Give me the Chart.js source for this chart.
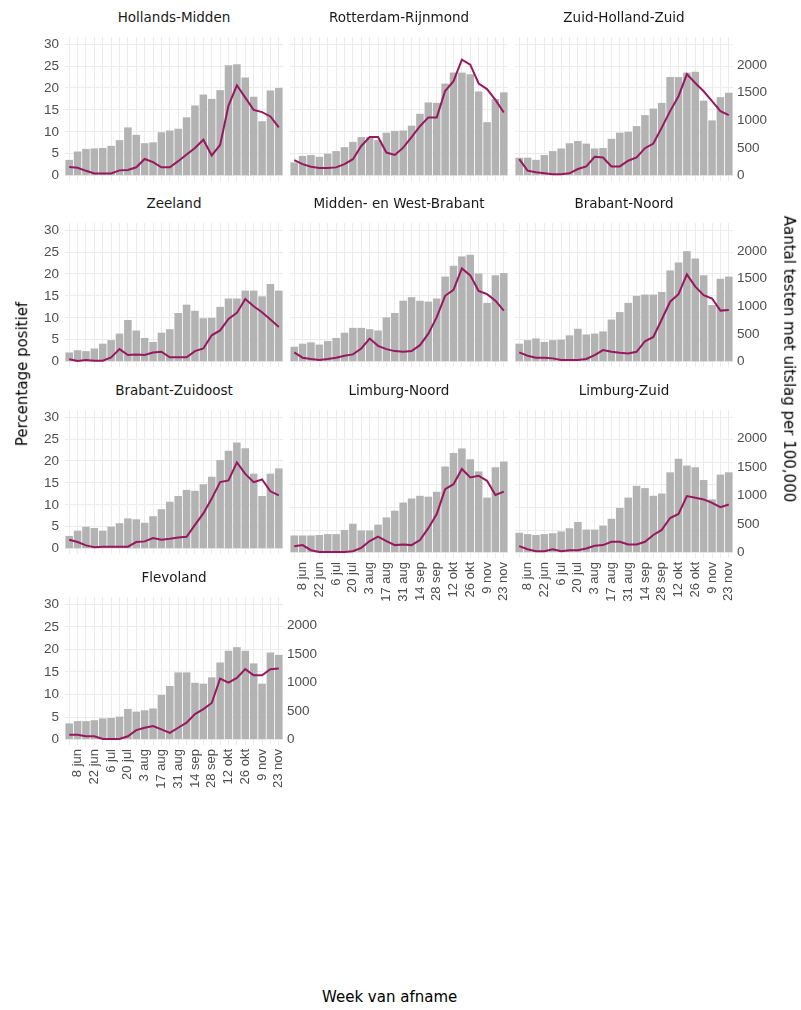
<!DOCTYPE html>
<html>
<head>
<meta charset="utf-8">
<script src="https://cdn.jsdelivr.net/npm/chart.js@4.4.0/dist/chart.umd.min.js"></script>
<style>
  body { margin: 0; background: #fff; font-family: "DejaVu Sans", Arial, sans-serif; }
  #wrap { position: relative; width: 801px; height: 1010px; }
  canvas { position: absolute; }
  .titel { position: absolute; font-size: 13.5px; color: #1a1a1a; text-align: center; }
  .as { position: absolute; font-size: 15px; color: #000; white-space: nowrap; }
</style>
</head>
<body>
<div id="wrap"></div>
<script>
// Weken (maandag van de week van afname)
var weken = ['1 jun', '8 jun', '15 jun', '22 jun', '29 jun', '6 jul', '13 jul',
    '20 jul', '27 jul', '3 aug', '10 aug', '17 aug', '24 aug', '31 aug',
    '7 sep', '14 sep', '21 sep', '28 sep', '5 okt', '12 okt', '19 okt',
    '26 okt', '2 nov', '9 nov', '16 nov', '23 nov'];

var regios = ['Hollands-Midden', 'Rotterdam-Rijnmond', 'Zuid-Holland-Zuid',
    'Zeeland', 'Midden- en West-Brabant', 'Brabant-Noord',
    'Brabant-Zuidoost', 'Limburg-Noord', 'Limburg-Zuid', 'Flevoland'];

// Percentage positief (staven)
var pctHollandsMidden = [3.6, 5.5, 6.1, 6.2, 6.3, 6.8, 8.1, 11.0, 9.3, 7.4, 7.6, 9.9, 10.3, 10.7, 13.3, 16.0, 18.5, 17.5, 19.5, 25.2, 25.4, 22.4, 18.0, 12.4, 19.4, 20.0];
var pctRotterdam = [3.0, 4.5, 4.7, 4.3, 5.0, 5.6, 6.5, 7.7, 8.8, 8.8, 8.1, 9.8, 10.2, 10.3, 11.4, 14.1, 16.7, 16.6, 21.0, 23.5, 23.5, 23.1, 19.2, 12.2, 17.5, 19.0];
var pctZHZ = [4.1, 4.1, 3.6, 4.7, 5.6, 6.2, 7.4, 7.9, 7.3, 6.2, 6.3, 8.4, 9.8, 10.0, 11.3, 13.8, 15.3, 16.6, 22.5, 22.5, 23.5, 23.7, 17.1, 12.6, 17.9, 18.9];
var pctZeeland = [2.1, 2.6, 2.4, 3.0, 4.1, 4.9, 6.4, 9.5, 7.1, 5.4, 4.5, 6.6, 7.4, 11.1, 13.0, 11.6, 9.9, 10.0, 12.5, 14.4, 14.4, 16.2, 16.2, 14.9, 17.7, 16.2];
var pctMWB = [3.4, 4.1, 4.4, 3.9, 4.7, 5.4, 6.6, 7.7, 7.7, 7.4, 7.1, 10.1, 11.1, 13.9, 14.7, 13.9, 13.7, 14.4, 19.4, 21.9, 24.0, 24.4, 20.1, 13.4, 19.7, 20.2];
var pctBrabantNoord = [4.1, 4.9, 5.3, 4.5, 4.9, 5.0, 6.0, 7.5, 6.2, 6.4, 6.9, 9.6, 11.3, 13.4, 15.0, 15.3, 15.3, 15.9, 20.8, 22.6, 25.2, 23.5, 19.7, 12.9, 18.9, 19.4];
var pctBrabantZO = [2.9, 4.1, 5.0, 4.7, 4.1, 5.0, 5.8, 6.9, 6.7, 5.9, 7.4, 9.0, 10.7, 12.0, 13.4, 13.2, 14.7, 16.4, 20.2, 22.3, 24.2, 22.9, 17.1, 12.0, 17.1, 18.3];
var pctLimburgNoord = [3.8, 3.8, 3.8, 3.9, 4.1, 4.1, 5.0, 6.4, 4.9, 4.9, 6.2, 7.8, 9.3, 11.1, 12.0, 12.6, 12.4, 13.5, 19.1, 22.1, 23.1, 20.7, 18.0, 12.2, 18.9, 20.2];
var pctLimburgZuid = [4.4, 4.1, 3.9, 4.1, 4.3, 4.7, 5.4, 6.8, 5.1, 5.1, 6.0, 7.5, 9.9, 12.2, 14.8, 14.3, 12.6, 13.1, 17.8, 20.8, 19.3, 18.9, 16.1, 11.8, 17.3, 17.8];
var pctFlevoland = [3.6, 4.1, 4.1, 4.3, 4.7, 4.8, 5.1, 6.8, 6.2, 6.5, 6.9, 9.9, 11.9, 14.9, 14.9, 12.6, 12.4, 13.8, 17.1, 19.7, 20.5, 19.7, 16.9, 12.4, 19.3, 18.8];

// Aantal testen met uitslag per 100.000 (lijn)
var testHollandsMidden = [158, 142, 87, 40, 40, 40, 95, 103, 150, 300, 245, 150, 150, 261, 380, 498, 648, 364, 553, 1265, 1630, 1408, 1187, 1147, 1068, 870];
var testRotterdam = [279, 208, 160, 137, 137, 149, 208, 297, 535, 695, 695, 416, 374, 505, 695, 891, 1051, 1051, 1527, 1705, 2091, 2002, 1663, 1562, 1366, 1140];
var testZHZ = [299, 90, 60, 42, 24, 24, 42, 119, 167, 340, 328, 167, 167, 269, 328, 495, 579, 866, 1164, 1433, 1833, 1672, 1522, 1343, 1164, 1093];
var testZeeland = [42, 12, 30, 18, 18, 77, 226, 119, 131, 119, 166, 178, 77, 77, 77, 190, 238, 475, 564, 772, 879, 1129, 998, 891, 760, 624];
var testMWB = [166, 71, 48, 30, 48, 71, 107, 131, 238, 416, 285, 226, 190, 178, 190, 297, 505, 802, 1188, 1295, 1681, 1556, 1277, 1218, 1099, 921];
var testBrabantNoord = [166, 107, 71, 71, 59, 30, 30, 30, 48, 119, 208, 178, 160, 148, 178, 368, 446, 760, 1081, 1218, 1574, 1354, 1200, 1140, 921, 933];
var testBrabantZO = [160, 119, 59, 24, 36, 36, 36, 36, 119, 131, 190, 160, 178, 202, 214, 428, 636, 903, 1200, 1230, 1557, 1349, 1200, 1248, 1034, 962];
var testLimburgNoord = [113, 131, 42, 12, 12, 12, 12, 24, 83, 202, 279, 202, 131, 143, 131, 220, 428, 677, 1111, 1200, 1467, 1319, 1349, 1259, 1010, 1069];
var testLimburgZuid = [113, 59, 24, 24, 59, 24, 42, 42, 71, 119, 131, 190, 190, 143, 143, 190, 309, 398, 606, 677, 992, 962, 933, 873, 796, 844];
var testFlevoland = [83, 83, 59, 59, 12, 12, 12, 59, 166, 208, 238, 178, 119, 208, 297, 446, 535, 642, 1069, 998, 1081, 1236, 1129, 1129, 1236, 1247];

var pctReeksen = [pctHollandsMidden, pctRotterdam, pctZHZ, pctZeeland, pctMWB,
    pctBrabantNoord, pctBrabantZO, pctLimburgNoord, pctLimburgZuid, pctFlevoland];
var testReeksen = [testHollandsMidden, testRotterdam, testZHZ, testZeeland, testMWB,
    testBrabantNoord, testBrabantZO, testLimburgNoord, testLimburgZuid, testFlevoland];

var pctTicks = [0, 2.5, 5, 7.5, 10, 12.5, 15, 17.5, 20, 22.5, 25, 27.5, 30];
var testTicks = [0, 500, 1000, 1500, 2000];

// Layout van de facetten
var kolomX = [65, 290, 515];
var rijY = [33, 219, 406, 593];
var plotB = 218;
var plotH = 152;
var yMin = -1.2, yMax = 31.6, schaal = 79.1;
var tekstKleur = '#4d4d4d';
var wrap = document.getElementById('wrap');

// Verticale marge die Chart.js rond de y-labels reserveert
var marge = 10;

function maakPaneel(i) {
    var kol = i % 3, rij = Math.floor(i / 3);
    var links = kol === 0;
    var rechts = kol === 2 || i === 9;
    var onder = i >= 7;
    var x0 = kolomX[kol] - 50, y0 = rijY[rij] - marge;
    var w = plotB + 100, h = plotH + marge + (onder ? 75 : marge);

    var titel = document.createElement('div');
    titel.className = 'titel';
    titel.style.left = kolomX[kol] + 'px';
    titel.style.width = plotB + 'px';
    titel.style.top = (rijY[rij] - 24) + 'px';
    titel.textContent = regios[i];
    wrap.appendChild(titel);

    var c = document.createElement('canvas');
    c.style.left = x0 + 'px';
    c.style.top = y0 + 'px';
    c.style.width = w + 'px';
    c.style.height = h + 'px';
    c.width = w; c.height = h;
    wrap.appendChild(c);

    new Chart(c.getContext('2d'), {
        data: {
            labels: weken,
            datasets: [{
                type: 'line', data: testReeksen[i], yAxisID: 'y2',
                borderColor: '#98185e', borderWidth: 2, pointRadius: 0,
                tension: 0
            }, {
                type: 'bar', data: pctReeksen[i], yAxisID: 'y',
                backgroundColor: '#b3b3b3', categoryPercentage: 1,
                barPercentage: 0.9
            }]
        },
        options: {
            responsive: false, animation: false,
            layout: { padding: { top: marge, bottom: onder ? 0 : marge } },
            plugins: { legend: { display: false }, tooltip: { enabled: false } },
            scales: {
                x: {
                    grid: { offset: false, color: '#ebebeb', drawTicks: false },
                    border: { display: false },
                    ticks: {
                        display: onder, autoSkip: false, minRotation: 90, maxRotation: 90,
                        color: tekstKleur, font: { size: 13 }, padding: 4,
                        callback: function (v, idx) { return idx % 2 === 1 ? weken[idx] : ''; }
                    },
                    afterFit: function (s) { s.height = onder ? 75 : 0; }
                },
                y: {
                    min: yMin, max: yMax, position: 'left',
                    grid: { color: '#ebebeb', drawTicks: false },
                    border: { display: false },
                    afterBuildTicks: function (s) { s.ticks = pctTicks.map(function (v) { return { value: v }; }); },
                    ticks: {
                        color: links ? tekstKleur : 'rgba(0,0,0,0)', font: { size: 13.5 }, padding: 6,
                        callback: function (v) { return v % 5 === 0 ? v : ''; }
                    },
                    afterFit: function (s) { s.width = 50; }
                },
                y2: {
                    min: yMin * schaal, max: yMax * schaal, position: 'right',
                    grid: { drawOnChartArea: false, drawTicks: false },
                    border: { display: false },
                    afterBuildTicks: function (s) { s.ticks = testTicks.map(function (v) { return { value: v }; }); },
                    ticks: {
                        color: rechts ? tekstKleur : 'rgba(0,0,0,0)', font: { size: 13.5 }, padding: 4,
                        callback: function (v) { return String(v); }
                    },
                    afterFit: function (s) { s.width = 50; }
                }
            }
        }
    });
}

for (var i = 0; i < regios.length; i++) {
    maakPaneel(i);
}

// As-titels
var t1 = document.createElement('div');
t1.className = 'as';
t1.style.left = '-50px'; t1.style.top = '365px';
t1.style.transform = 'rotate(-90deg)';
t1.textContent = 'Percentage positief';
wrap.appendChild(t1);

var t2 = document.createElement('div');
t2.className = 'as';
t2.style.left = '646px'; t2.style.top = '350px';
t2.style.transform = 'rotate(90deg)';
t2.textContent = 'Aantal testen met uitslag per 100,000';
wrap.appendChild(t2);

var t3 = document.createElement('div');
t3.className = 'as';
t3.style.left = '322px'; t3.style.top = '988px';
t3.textContent = 'Week van afname';
wrap.appendChild(t3);
</script>
</body>
</html>
